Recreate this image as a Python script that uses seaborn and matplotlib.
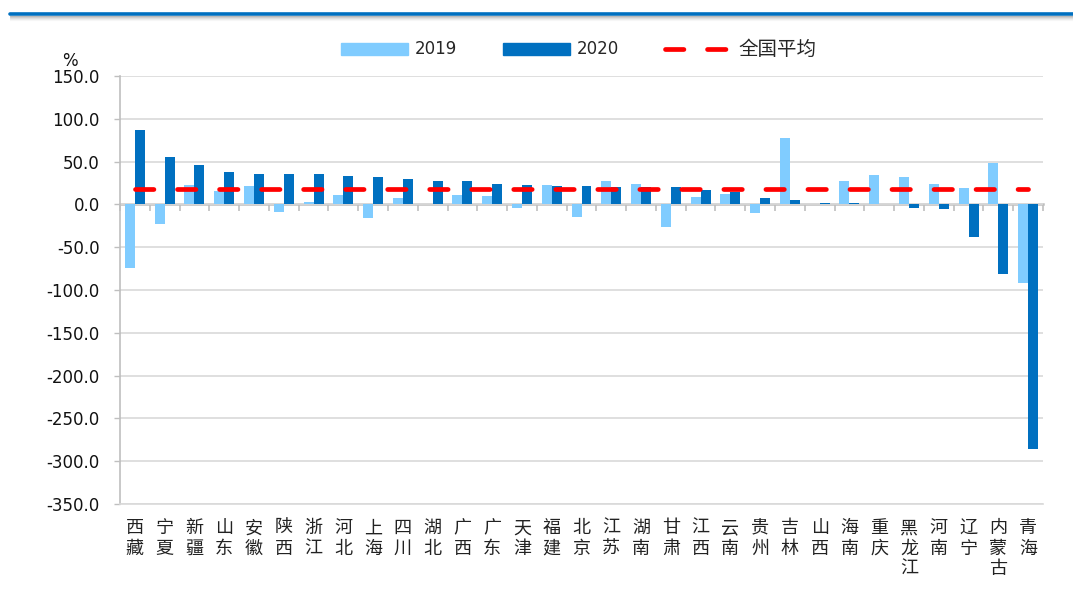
import numpy as np
import pandas as pd
import matplotlib
matplotlib.use("Agg")
import matplotlib.pyplot as plt
import seaborn as sns
from matplotlib.lines import Line2D
from matplotlib.patches import Patch

# ---- data ----
categories = ['西藏', '宁夏', '新疆', '山东', '安徽', '陕西', '浙江', '河北', '上海', '四川',
              '湖北', '广西', '广东', '天津', '福建', '北京', '江苏', '湖南', '甘肃', '江西',
              '云南', '贵州', '吉林', '山西', '海南', '重庆', '黑龙江', '河南', '辽宁', '内蒙古', '青海']
v2019 = [-73.8, -22.7, 22.3, 16.0, 21.5, -8.6, 2.7, 10.5, -16.4, 7.8,
         0.3, 10.9, 9.4, -3.9, 22.3, -14.5, 27.0, 24.2, -26.2, 9.0,
         12.5, -9.8, 77.7, 0.3, 27.7, 34.0, 31.6, 23.4, 19.5, 48.4, -92.2]
v2020 = [87.5, 55.1, 46.1, 37.5, 35.5, 35.5, 35.2, 32.8, 32.0, 29.7,
         27.5, 27.3, 23.8, 22.3, 21.0, 21.0, 20.7, 20.3, 19.9, 16.8,
         14.8, 7.8, 4.7, 1.6, 1.6, 0.8, -4.3, -5.1, -37.9, -81.3, -286.0]
national_avg = 18.0
series_names = ['2019', '2020']
avg_name = '全国平均'
yticks = list(range(-350, 151, 50))

# ---- style ----
sns.set_theme(style='white')
plt.rcParams['font.family'] = ['DejaVu Sans', 'Noto Sans CJK SC']
c2019, c2020, cavg = '#80CCFF', '#0070C0', '#FF0000'
grid_c, axis_c = '#D9D9D9', '#BFBFBF'

df = pd.DataFrame({
    'province': categories * 2,
    'year': [series_names[0]] * len(categories) + [series_names[1]] * len(categories),
    'value': v2019 + v2020,
})

fig = plt.figure(figsize=(10.73, 5.94), dpi=100)
ax = fig.add_axes([120 / 1073, 1 - 504 / 594, 923 / 1073, 428 / 594])

sns.barplot(data=df, x='province', y='value', hue='year', order=categories,
            hue_order=series_names, palette={series_names[0]: c2019, series_names[1]: c2020},
            width=0.67, saturation=1, linewidth=0, errorbar=None, legend=False, ax=ax)

dash_style = (0, (3.9, 5.0))
ax.plot(range(len(categories)), [national_avg] * len(categories), color=cavg, lw=3.4,
        linestyle=dash_style, dash_capstyle='round', zorder=5)

ax.set_xlim(-0.5, len(categories) - 0.5)
ax.set_ylim(-350, 150)
ax.set_yticks(yticks)
ax.set_yticklabels([f"{v:.1f}" for v in yticks])
ax.set_xticks(range(len(categories)))
ax.set_xticklabels(['\n'.join(c) for c in categories], family=['Noto Sans CJK SC', 'DejaVu Sans'],
                   fontsize=13, color='#222222', linespacing=1.17)
ax.set_xlabel('')
ax.set_ylabel('')

ax.yaxis.grid(True, color=grid_c, lw=1.2)
ax.xaxis.grid(False)
ax.set_axisbelow(True)
for s in ['top', 'right']:
    ax.spines[s].set_visible(False)
ax.spines['left'].set_color(axis_c)
ax.spines['left'].set_linewidth(1.2)
ax.spines['bottom'].set_color(grid_c)
ax.spines['bottom'].set_linewidth(1.2)
ax.tick_params(axis='y', left=True, length=4, width=1, color=axis_c, pad=10.5,
               labelsize=12, labelcolor='#111111')
ax.tick_params(axis='x', bottom=False, length=0, pad=11)

# zero axis with category boundary ticks (secondary axis placed at y = 0)
sec = ax.secondary_xaxis(350 / 500)
sec.set_xticks(np.arange(-0.5, len(categories), 1.0))
sec.set_xticklabels([])
sec.tick_params(axis='x', which='both', top=True, bottom=False, labeltop=False, labelbottom=False,
                length=5, width=1.2, color=axis_c, direction='in')
for s in ['top', 'bottom']:
    sec.spines[s].set_color(axis_c)
    sec.spines[s].set_linewidth(1.8)

# legend
handles = [Patch(color=c2019, label=series_names[0]),
           Patch(color=c2020, label=series_names[1]),
           Line2D([], [], color=cavg, lw=3.4, linestyle=dash_style, dash_capstyle='round', label=avg_name)]
leg = ax.legend(handles=handles, ncol=3, loc='center', bbox_to_anchor=(0.5395, 1 - 49 / 594),
                bbox_transform=fig.transFigure, frameon=False, fontsize=12,
                handlelength=4.0, handleheight=0.72, handletextpad=0.42, columnspacing=2.75)
leg.get_texts()[2].set_fontsize(14)

fig.text(70 / 1073, 1 - 61 / 594, '%', ha='center', va='center', fontsize=12, color='#111111')

# top banner line with shadow
yb = 1 - 13.5 / 594
fig.add_artist(Line2D([10 / 1073, 1], [yb, yb], color='#0070C0', lw=2.6, transform=fig.transFigure))
for i, col in enumerate(['#b8b8b8', '#cdcdcd', '#dedede', '#ececec', '#f6f6f6']):
    yy = 1 - (16 + i) / 594
    fig.add_artist(Line2D([10 / 1073, 1], [yy, yy], color=col, lw=0.8, transform=fig.transFigure))

fig.savefig('out.png', dpi=100)
